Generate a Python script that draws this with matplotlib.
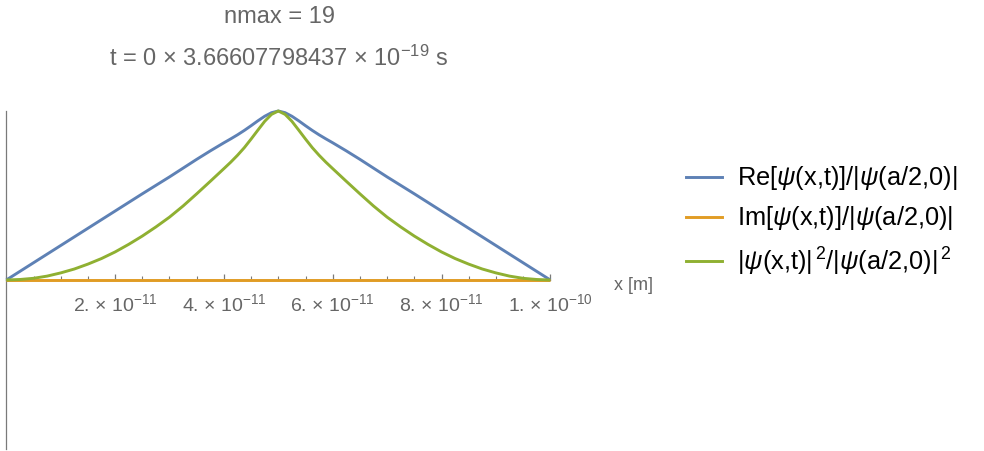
import matplotlib
matplotlib.use("Agg")
import matplotlib.pyplot as plt
from matplotlib.ticker import MultipleLocator, FixedLocator, FixedFormatter
from matplotlib.lines import Line2D

plt.rcParams['font.family'] = ['Liberation Sans', 'DejaVu Sans']
plt.rcParams['mathtext.fontset'] = 'custom'
plt.rcParams['mathtext.rm'] = 'Liberation Sans'
plt.rcParams['mathtext.it'] = 'Liberation Sans:italic'

# x positions in units of 1e-12 m
x_pm = [0, 2.5, 5, 7.5, 10, 12.5, 15, 17.5, 20, 22.5, 25, 27.5, 30, 32.5, 35, 37.5,
        40, 41.25, 42.5, 43.75, 45, 46.25, 47.5, 48.75, 50,
        51.25, 52.5, 53.75, 55, 56.25, 57.5, 58.75, 60,
        62.5, 65, 67.5, 70, 72.5, 75, 77.5, 80, 82.5, 85, 87.5, 90, 92.5, 95, 97.5, 100]

re_vals = [0.000, 0.051, 0.102, 0.153, 0.204, 0.255, 0.306, 0.357, 0.408, 0.459, 0.510,
           0.560, 0.610, 0.662, 0.714, 0.764,
           0.812, 0.835, 0.859, 0.885, 0.913, 0.942, 0.969, 0.990, 1.000,
           0.990, 0.969, 0.942, 0.913, 0.885, 0.859, 0.835, 0.812,
           0.764, 0.714, 0.662, 0.610, 0.560, 0.510, 0.459, 0.408, 0.357, 0.306,
           0.255, 0.204, 0.153, 0.102, 0.051, 0.000]

im_vals = [0.0] * len(x_pm)

abs2_vals = [0.000, 0.003, 0.010, 0.023, 0.042, 0.065, 0.094, 0.127, 0.166, 0.211, 0.260,
             0.314, 0.372, 0.438, 0.510, 0.584,
             0.659, 0.697, 0.738, 0.783, 0.834, 0.887, 0.939, 0.980, 1.000,
             0.980, 0.939, 0.887, 0.834, 0.783, 0.738, 0.697, 0.659,
             0.584, 0.510, 0.438, 0.372, 0.314, 0.260, 0.211, 0.166, 0.127, 0.094,
             0.065, 0.042, 0.023, 0.010, 0.003, 0.000]

tick_vals = [2e-11, 4e-11, 6e-11, 8e-11, 1e-10]
tick_labels = [r'2. $\times$ 10$^{-11}$', r'4. $\times$ 10$^{-11}$', r'6. $\times$ 10$^{-11}$',
               r'8. $\times$ 10$^{-11}$', r'1. $\times$ 10$^{-10}$']

labels = [r'Re[$\psi$(x,t)]/|$\psi$(a/2,0)|',
          r'Im[$\psi$(x,t)]/|$\psi$(a/2,0)|',
          r'|$\psi$(x,t)|$^{\,2}$/|$\psi$(a/2,0)|$^{\,2}$']
colors = ['#5E81B5', '#E19C24', '#8FB032']

x = [v * 1e-12 for v in x_pm]

fig = plt.figure(figsize=(9.84, 4.52), dpi=100)
ax = fig.add_axes([6.3 / 984, 2 / 452, 544 / 984, 338 / 452])

for vals, c in zip([re_vals, im_vals, abs2_vals], colors):
    ax.plot(x, vals, color=c, lw=2.1, clip_on=False, solid_capstyle='butt',
            solid_joinstyle='round', zorder=3)

ax.set_xlim(0, 1e-10)
ax.set_ylim(-1, 1)

grey = '#666666'
ax.spines['top'].set_visible(False)
ax.spines['right'].set_visible(False)
ax.spines['bottom'].set_position(('data', 0))
for s in ['bottom', 'left']:
    ax.spines[s].set_color('#7a7a7a')
    ax.spines[s].set_linewidth(0.9)
    ax.spines[s].set_zorder(2)

ax.xaxis.set_major_locator(FixedLocator(tick_vals))
ax.xaxis.set_major_formatter(FixedFormatter(tick_labels))
ax.xaxis.set_minor_locator(MultipleLocator(5e-12))
ax.tick_params(axis='x', which='major', direction='in', length=4.5, width=0.9,
               color='#7a7a7a', labelcolor=grey, labelsize=14, pad=9)
ax.tick_params(axis='x', which='minor', direction='in', length=3, width=0.8, color='#7a7a7a')
ax.set_yticks([])

fig.text(614 / 984, 1 - 285 / 452, 'x [m]', color=grey, fontsize=13, va='center', ha='left')

fig.text(279 / 984, 1 - 17 / 452, 'nmax = 19', color=grey, fontsize=17, ha='center', va='center')
fig.text(279 / 984, 1 - 58 / 452, r't = 0 $\times$ 3.66607798437 $\times$ 10$^{-19}$ s',
         color=grey, fontsize=17, ha='center', va='center')

# legend
leg_y = [178, 218, 262]
for lab, c, yy in zip(labels, colors, leg_y):
    fy = 1 - yy / 452
    fig.add_artist(Line2D([686 / 984, 722 / 984], [fy, fy], color=c, lw=2.1,
                          transform=fig.transFigure))
    fig.text(737 / 984, fy, lab, color='black', fontsize=18.3, ha='left', va='center')

fig.savefig('out.png', dpi=100)
